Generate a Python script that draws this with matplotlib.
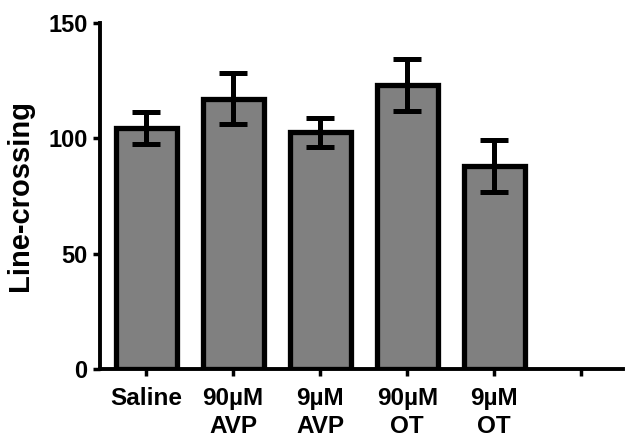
import matplotlib
matplotlib.use("Agg")
import matplotlib.pyplot as plt

categories = ["Saline", "90µM\nAVP", "9µM\nAVP", "90µM\nOT", "9µM\nOT", ""]
means = [104.5, 117.0, 102.5, 123.0, 88.0]
sems = [7.0, 11.0, 6.3, 11.3, 11.2]
yticks = [0, 50, 100, 150]

plt.rcParams['font.family'] = ['Liberation Sans', 'DejaVu Sans']
fig = plt.figure(figsize=(6.3, 4.45), dpi=100)
ax = fig.add_axes([0.1587, 0.1708, 0.989 - 0.1587, 0.949 - 0.1708])

x = list(range(len(means)))
ax.bar(x, means, width=0.70, color="#808080", edgecolor="black", linewidth=3.8, zorder=2)
ax.errorbar(x, means, yerr=sems, fmt="none", ecolor="black", elinewidth=3.6,
            capsize=10, capthick=3.6, zorder=3)

ax.set_xlim(-0.53, 5.48)
ax.set_ylim(0, 150)
ax.set_yticks(yticks)
ax.set_yticklabels([str(t) for t in yticks], fontsize=17, fontweight="bold")
ax.set_xticks(range(len(categories)))
ax.set_xticklabels(categories, fontsize=17.5, fontweight="bold", linespacing=1.3)
ax.set_ylabel("Line-crossing", fontsize=21, fontweight="bold", labelpad=10)

for s in ["top", "right"]:
    ax.spines[s].set_visible(False)
for s in ["left", "bottom"]:
    ax.spines[s].set_linewidth(2.8)
ax.tick_params(axis="both", width=2.5, length=5, pad=4)
ax.tick_params(axis="x", pad=8)

fig.savefig("out.png", dpi=100)
